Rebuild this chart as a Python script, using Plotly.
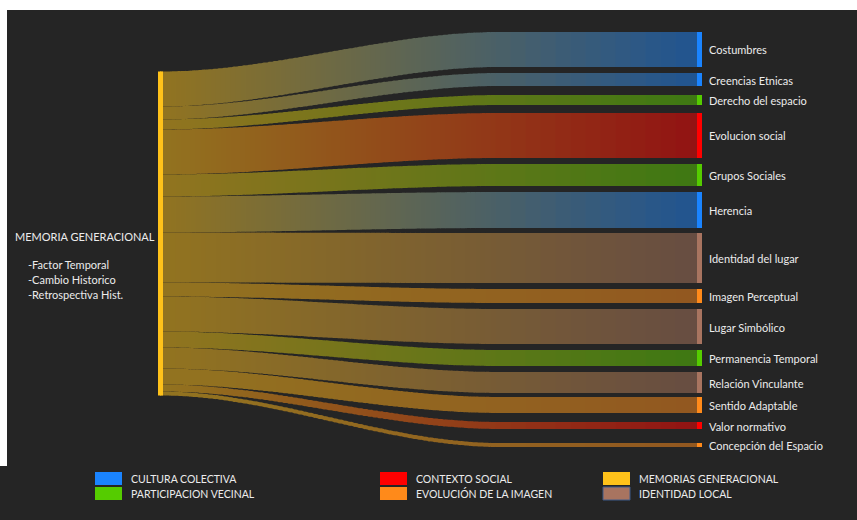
import plotly.graph_objects as go

# ---------------- data ----------------
source_label = "MEMORIA GENERACIONAL"
source_notes = ["-Factor Temporal", "-Cambio Historico", "-Retrospectiva Hist."]
source_group = "MEMORIAS GENERACIONAL"

targets = ["Costumbres", "Creencias Etnicas", "Derecho del espacio", "Evolucion social",
           "Grupos Sociales", "Herencia", "Identidad del lugar", "Imagen Perceptual",
           "Lugar Simbólico", "Permanencia Temporal", "Relación Vinculante",
           "Sentido Adaptable", "Valor normativo", "Concepción del Espacio"]
values = [35, 13, 10, 45, 22, 36, 50, 14, 35, 16, 21, 16, 7, 4]
target_groups = ["CULTURA COLECTIVA", "CULTURA COLECTIVA", "PARTICIPACION VECINAL",
                 "CONTEXTO SOCIAL", "PARTICIPACION VECINAL", "CULTURA COLECTIVA",
                 "IDENTIDAD LOCAL", "EVOLUCIÓN DE LA IMAGEN", "IDENTIDAD LOCAL",
                 "PARTICIPACION VECINAL", "IDENTIDAD LOCAL", "EVOLUCIÓN DE LA IMAGEN",
                 "CONTEXTO SOCIAL", "EVOLUCIÓN DE LA IMAGEN"]
legend_groups = ["CULTURA COLECTIVA", "PARTICIPACION VECINAL", "CONTEXTO SOCIAL",
                 "EVOLUCIÓN DE LA IMAGEN", "MEMORIAS GENERACIONAL", "IDENTIDAD LOCAL"]

# ---------------- layout / styles ----------------
group_colors = {
    "CULTURA COLECTIVA": (26, 132, 255),
    "PARTICIPACION VECINAL": (85, 204, 0),
    "CONTEXTO SOCIAL": (255, 0, 0),
    "EVOLUCIÓN DE LA IMAGEN": (255, 138, 26),
    "MEMORIAS GENERACIONAL": (255, 194, 26),
    "IDENTIDAD LOCAL": (168, 116, 96),
}
BG = (37, 37, 37)
LINK_ALPHA = 0.5
W, H = 857, 520
THICK = 5                       # visible source / target bars
SRC_X, TGT_X = 160.5, 699.5     # node centres (px) -> edges on whole pixels
TOP = 32.0
GAPS = [6, 9, 8, 6, 6, 5, 6, 6, 6, 6, 4, 9, 14]   # spacing between target bars (px)
SRC_MID = 233.5
KY = 1.0                        # px per unit
CURVE_END = 500.0               # x where links become flat
STEP_CURVE, STEP_FLAT = 5, 15   # gradient step widths (px)
FONT = "Lato, 'Open Sans', sans-serif"
TXT = "#ececec"


def hexc(c):
    return "rgb(%d,%d,%d)" % tuple(int(round(v)) for v in c)


def blend(c1, c2, t):
    return tuple(a + (b - a) * t for a, b in zip(c1, c2))


def link_color(tcol, t):
    mix = blend(group_colors[source_group], tcol, t)
    return blend(BG, mix, LINK_ALPHA)


n = len(targets)
hts = [v * KY for v in values]
total_h = sum(hts)
node_pad = (H - total_h) / (n - 1)   # makes plotly's own ky equal KY

tgt_c, src_c = [], []
acc_t, acc_s = TOP, SRC_MID - total_h / 2
for i, h in enumerate(hts):
    tgt_c.append(acc_t + h / 2)
    src_c.append(acc_s + h / 2)
    acc_t += h + (GAPS[i] if i < len(GAPS) else 0)
    acc_s += h

base_x = [SRC_X / W] + [TGT_X / W] * n
base_y = [SRC_MID / H] + [c / H for c in tgt_c]
base_col = [hexc(group_colors[source_group])] + [hexc(group_colors[g]) for g in target_groups]

# step positions (whole-pixel edges for 1px nodes)
xs = [SRC_X]
x = SRC_X
while x + STEP_CURVE <= CURVE_END:
    x += STEP_CURVE
    xs.append(x)
while x + STEP_FLAT < TGT_X - 5:
    x += STEP_FLAT
    xs.append(x)
xs.append(TGT_X)
N_SEG = len(xs) - 1

# gradient flows: chain of 1px nodes between source and each target
node_x, node_y, node_col = list(base_x), list(base_y), list(base_col)
src, tgt, val, lcol = [], [], [], []
for i in range(n):
    tcol = group_colors[target_groups[i]]
    prev = 0
    for k in range(1, N_SEG + 1):
        x = xs[k]
        if k == N_SEG:
            idx = 1 + i
        else:
            u = (x - SRC_X) / (CURVE_END - SRC_X)
            u = max(0.0, min(1.0, u))
            s = 3 * u * u - 2 * u ** 3
            y = src_c[i] + (tgt_c[i] - src_c[i]) * s
            idx = len(node_x)
            node_x.append(x / W)
            node_y.append(y / H)
            node_col.append(hexc(link_color(tcol, (x - SRC_X) / (TGT_X - SRC_X))))
        xm = (xs[k - 1] + xs[k]) / 2
        src.append(prev)
        tgt.append(idx)
        val.append(values[i])
        lcol.append(hexc(link_color(tcol, (xm - SRC_X) / (TGT_X - SRC_X))))
        prev = idx

flows = go.Sankey(
    arrangement="fixed",
    domain=dict(x=[0, 1], y=[0, 1]),
    node=dict(label=[""] * len(node_x), x=node_x, y=node_y, color=node_col,
              thickness=1, pad=node_pad, line=dict(width=0), hoverinfo="none"),
    link=dict(source=src, target=tgt, value=val, color=lcol, hoverinfo="none"),
)

# visible source / target bars
bars = go.Sankey(
    arrangement="fixed",
    domain=dict(x=[0, 1], y=[0, 1]),
    node=dict(label=[""] * (n + 1), x=base_x, y=base_y, color=base_col,
              thickness=THICK, pad=node_pad, line=dict(width=0), hoverinfo="none"),
    link=dict(source=[0] * n, target=list(range(1, n + 1)), value=values,
              color="rgba(0,0,0,0)", hoverinfo="none"),
)

fig = go.Figure([flows, bars])

ann = []
for i, name in enumerate(targets):
    ann.append(dict(x=(TGT_X + 7.5) / W, y=1 - (tgt_c[i] + 0.5) / H, xref="paper", yref="paper",
                    text=name, showarrow=False, xanchor="left", yanchor="middle",
                    font=dict(family=FONT, size=11, color=TXT)))
ann.append(dict(x=13 / W, y=1 - 237 / H, xref="paper", yref="paper", text=source_label,
                showarrow=False, xanchor="left", yanchor="middle",
                font=dict(family=FONT, size=11, color=TXT)))
for j, note in enumerate(source_notes):
    ann.append(dict(x=26 / W, y=1 - (264 + 15 * j) / H, xref="paper", yref="paper", text=note,
                    showarrow=False, xanchor="left", yanchor="middle",
                    font=dict(family=FONT, size=11, color=TXT)))

shapes = [
    dict(type="rect", xref="paper", yref="paper", x0=0, x1=1, y0=1 - 10 / H, y1=1,
         fillcolor="white", line=dict(width=0), layer="below"),
    dict(type="rect", xref="paper", yref="paper", x0=0, x1=7 / W, y0=1 - 466 / H, y1=1,
         fillcolor="white", line=dict(width=0), layer="below"),
]
col_x = [95, 380, 603]
row_y = [472, 487]
for j, g in enumerate(legend_groups):
    cx, ry = col_x[j // 2], row_y[j % 2]
    shapes.append(dict(type="rect", xref="paper", yref="paper",
                       x0=cx / W, x1=(cx + 27) / W, y0=1 - (ry + 13) / H, y1=1 - ry / H,
                       fillcolor=hexc(group_colors[g]),
                       line=dict(width=1 if g == "IDENTIDAD LOCAL" else 0, color="#3d5a8a"),
                       layer="below"))
    ann.append(dict(x=(cx + 34) / W, y=1 - (ry + 6.5) / H, xref="paper", yref="paper", text=g,
                    showarrow=False, xanchor="left", yanchor="middle",
                    font=dict(family=FONT, size=10.5, color=TXT)))

fig.update_layout(width=W, height=H, margin=dict(l=0, r=0, t=0, b=0),
                  paper_bgcolor=hexc(BG), plot_bgcolor=hexc(BG),
                  annotations=ann, shapes=shapes, showlegend=False)
fig.write_html("out.html", config={"displayModeBar": False},
               post_script="document.body.style.margin='0';")
